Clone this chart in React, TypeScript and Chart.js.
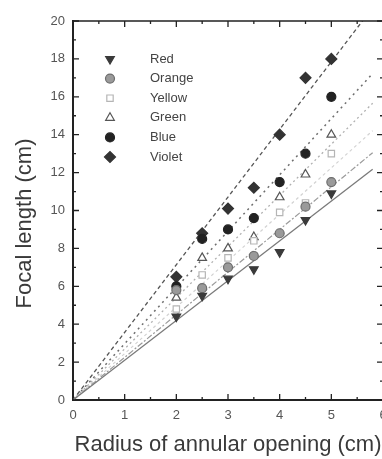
import React, { useEffect, useRef } from 'react';
import { Chart, registerables } from 'chart.js';
import { drawPoint } from 'chart.js/helpers';

Chart.register(...registerables);

const radii = [2, 2.5, 3, 3.5, 4, 4.5, 5];
const seriesNames = ['Red', 'Orange', 'Yellow', 'Green', 'Blue', 'Violet'];
const red = [4.4, 5.5, 6.4, 6.9, 7.8, 9.5, 10.9];
const orange = [5.8, 5.9, 7.0, 7.6, 8.8, 10.2, 11.5];
const yellow = [4.8, 6.6, 7.5, 8.4, 9.9, 10.4, 13.0];
const green = [5.4, 7.5, 8.0, 8.6, 10.7, 11.9, 14.0];
const blue = [6.0, 8.5, 9.0, 9.6, 11.5, 13.0, 16.0];
const violet = [6.5, 8.8, 10.1, 11.2, 14.0, 17.0, 18.0];
const seriesValues = [red, orange, yellow, green, blue, violet];
// fitted lines through origin (slope per series)
const fitSlopes = [2.1, 2.25, 2.45, 2.7, 2.97, 3.57];
const fitXRange = [0, 5.8];
const xTitle = 'Radius of annular opening (cm)';
const yTitle = 'Focal length (cm)';

const FONT = "'Liberation Sans', Arial, sans-serif";

const markerStyles = [
  { pointStyle: 'triangle', rotation: 180, bg: '#3a3a3a', border: '#3a3a3a', radius: 5 },
  { pointStyle: 'circle', rotation: 0, bg: '#9a9a9a', border: '#6e6e6e', radius: 4.5 },
  { pointStyle: 'rect', rotation: 0, bg: '#ffffff', border: '#b5b5b5', radius: 4.5 },
  { pointStyle: 'triangle', rotation: 0, bg: '#ffffff', border: '#555555', radius: 5 },
  { pointStyle: 'circle', rotation: 0, bg: '#222222', border: '#222222', radius: 4.5 },
  { pointStyle: 'rectRot', rotation: 0, bg: '#333333', border: '#333333', radius: 5.5 },
];

const lineStyles = [
  { color: '#7a7a7a', dash: [] as number[], width: 1.3 },
  { color: '#9a9a9a', dash: [6, 2, 2, 2], width: 1.2 },
  { color: '#d2d2d2', dash: [3, 3], width: 1.2 },
  { color: '#b0b0b0', dash: [2, 3], width: 1.3 },
  { color: '#6e6e6e', dash: [2, 4], width: 1.5 },
  { color: '#555555', dash: [4, 3], width: 1.3 },
];

const framePlugin = {
  id: 'frame',
  afterDraw(chart: any) {
    const { ctx, chartArea } = chart;
    const xs = chart.scales.x;
    const ys = chart.scales.y;
    ctx.save();
    ctx.strokeStyle = '#222';
    // top and right frame
    ctx.lineWidth = 1.5;
    ctx.beginPath();
    ctx.moveTo(chartArea.left, chartArea.top);
    ctx.lineTo(chartArea.right, chartArea.top);
    ctx.lineTo(chartArea.right, chartArea.bottom);
    ctx.stroke();
    // inward ticks
    ctx.lineWidth = 1.3;
    const xMajor = xs.ticks.map((t: any) => t.value);
    const yMajor = ys.ticks.map((t: any) => t.value);
    const drawX = (v: number, len: number) => {
      const p = xs.getPixelForValue(v);
      ctx.beginPath();
      ctx.moveTo(p, chartArea.bottom);
      ctx.lineTo(p, chartArea.bottom - len);
      ctx.moveTo(p, chartArea.top);
      ctx.lineTo(p, chartArea.top + len);
      ctx.stroke();
    };
    const drawY = (v: number, len: number) => {
      const p = ys.getPixelForValue(v);
      ctx.beginPath();
      ctx.moveTo(chartArea.left, p);
      ctx.lineTo(chartArea.left + len, p);
      ctx.moveTo(chartArea.right, p);
      ctx.lineTo(chartArea.right - len, p);
      ctx.stroke();
    };
    xMajor.forEach((v: number, i: number) => {
      drawX(v, 6);
      if (i < xMajor.length - 1) drawX((v + xMajor[i + 1]) / 2, 3);
    });
    yMajor.forEach((v: number, i: number) => {
      drawY(v, 6);
      if (i < yMajor.length - 1) drawY((v + yMajor[i + 1]) / 2, 3);
    });
    // y axis title (slightly below centre, as in the reference)
    ctx.save();
    ctx.translate(25, (chartArea.top + chartArea.bottom) / 2 + 13);
    ctx.rotate(-Math.PI / 2);
    ctx.font = `22px ${FONT}`;
    ctx.fillStyle = '#3a3a3a';
    ctx.textAlign = 'center';
    ctx.textBaseline = 'middle';
    ctx.fillText(yTitle, 0, 0);
    ctx.restore();
    // legend
    const mx = chartArea.left + 37;
    const tx = chartArea.left + 77;
    let y = chartArea.top + 38;
    ctx.setLineDash([]);
    ctx.font = `13px ${FONT}`;
    ctx.textBaseline = 'middle';
    ctx.textAlign = 'left';
    seriesNames.forEach((name, i) => {
      const m = markerStyles[i];
      ctx.fillStyle = m.bg;
      ctx.strokeStyle = m.border;
      ctx.lineWidth = 1.2;
      drawPoint(ctx, { pointStyle: m.pointStyle as any, rotation: m.rotation, radius: m.radius, borderWidth: 1.2 }, mx, y);
      ctx.fillStyle = '#444';
      ctx.fillText(name, tx, y);
      y += 19.6;
    });
    ctx.restore();
  },
};

export default function App() {
  const ref = useRef<HTMLCanvasElement | null>(null);
  useEffect(() => {
    if (!ref.current) return;
    const pointSets = seriesNames.map((name, i) => ({
      type: 'scatter' as const,
      label: name,
      data: radii.map((r, j) => ({ x: r, y: seriesValues[i][j] })),
      pointStyle: markerStyles[i].pointStyle as any,
      rotation: markerStyles[i].rotation,
      pointRadius: markerStyles[i].radius,
      pointBackgroundColor: markerStyles[i].bg,
      pointBorderColor: markerStyles[i].border,
      pointBorderWidth: 1.2,
      showLine: false,
      order: 0,
    }));
    const fitSets = seriesNames.map((name, i) => ({
      type: 'line' as const,
      label: name + ' fit',
      data: fitXRange.map((x) => ({ x, y: fitSlopes[i] * x })),
      borderColor: lineStyles[i].color,
      borderDash: lineStyles[i].dash,
      borderWidth: lineStyles[i].width,
      pointRadius: 0,
      fill: false,
      order: 1,
    }));
    const chart = new Chart(ref.current, {
      type: 'scatter',
      data: { datasets: [...pointSets, ...fitSets] as any },
      options: {
        responsive: false,
        animation: false,
        devicePixelRatio: 1,
        layout: { padding: { left: 0, top: 21, right: 17, bottom: 0 } },
        plugins: { legend: { display: false }, tooltip: { enabled: false } },
        scales: {
          x: {
            type: 'linear',
            min: 0,
            max: 6,
            ticks: { stepSize: 1, font: { size: 13, family: FONT }, color: '#555', padding: 8 },
            grid: { display: false, drawTicks: false },
            border: { display: true, color: '#222', width: 2 },
            title: {
              display: true,
              text: xTitle,
              font: { size: 22, family: FONT },
              color: '#3a3a3a',
              padding: { top: 0, bottom: 1 },
            },
            afterFit: (s: any) => { s.height = 59; },
          },
          y: {
            type: 'linear',
            min: 0,
            max: 20,
            ticks: { stepSize: 2, font: { size: 13, family: FONT }, color: '#555', padding: 8 },
            grid: { display: false, drawTicks: false },
            border: { display: true, color: '#222', width: 2 },
            title: { display: false },
            afterFit: (s: any) => { s.width = 73; },
          },
        },
      },
      plugins: [framePlugin],
    });
    return () => chart.destroy();
  }, []);
  return (
    <div style={{ position: 'fixed', left: 0, top: 0, width: 382, height: 459, overflow: 'hidden', background: '#fff' }}>
      <canvas ref={ref} width={400} height={459} style={{ display: 'block', width: 400, height: 459 }} />
    </div>
  );
}
